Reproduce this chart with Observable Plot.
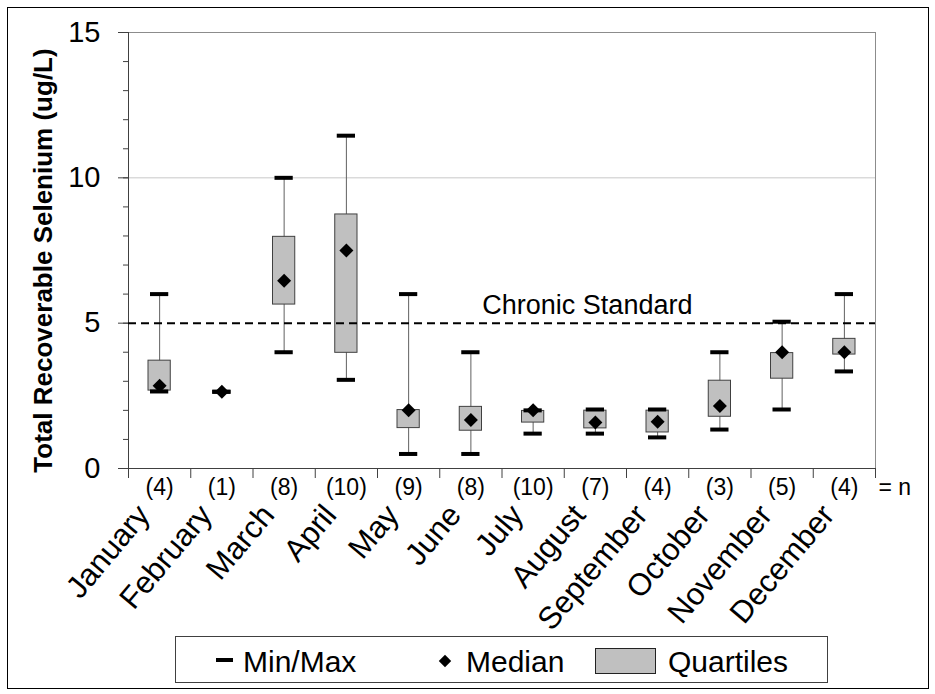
<!DOCTYPE html>
<html>
<head>
<meta charset="utf-8">
<script src="https://cdn.jsdelivr.net/npm/d3@7"></script>
<script src="https://cdn.jsdelivr.net/npm/@observablehq/plot@0.6"></script>
<style>
  body { margin: 0; background: #fff; }
  #chart { position: relative; width: 935px; height: 694px; overflow: hidden; font-family: "Liberation Sans", Arial, sans-serif; }
  #border { position: absolute; left: 7px; top: 7px; width: 922px; height: 682px; box-sizing: border-box; border: 1px solid #000; pointer-events: none; }
  #plot { position: absolute; left: 0; top: 0; }
  #legend { position: absolute; left: 175px; top: 636px; }
</style>
</head>
<body>
<div id="chart">
  <div id="plot"></div>
  <div id="legend"></div>
  <div id="border"></div>
</div>
<script>
// Monthly total recoverable selenium (ug/L): min, quartiles, median, max and sample count
const months = ["January", "February", "March", "April", "May", "June", "July", "August", "September", "October", "November", "December"];
const nObs   = [4, 1, 8, 10, 9, 8, 10, 7, 4, 3, 5, 4];
const minVal = [2.65, 2.64, 4.0, 3.05, 0.5, 0.5, 1.2, 1.2, 1.07, 1.34, 2.03, 3.34];
const q1Val  = [2.68, 2.64, 5.64, 3.98, 1.39, 1.30, 1.58, 1.38, 1.24, 1.78, 3.09, 3.92];
const medVal = [2.85, 2.64, 6.46, 7.5, 2.0, 1.67, 2.0, 1.58, 1.61, 2.15, 4.0, 4.0];
const q3Val  = [3.71, 2.64, 7.97, 8.74, 2.01, 2.12, 1.98, 1.99, 1.99, 3.02, 3.97, 4.46];
const maxVal = [6.0, 2.64, 10.0, 11.45, 6.0, 4.0, 2.0, 2.03, 2.03, 4.0, 5.05, 6.0];

const chronicStandard = 5;
const chronicLabel = "Chronic Standard";
const yTicksMajor = [0, 5, 10, 15];
const yTicksMinor = d3.range(0, 16);
const gridLines = [10];
const yTitle = "Total Recoverable Selenium (ug/L)";
const legendItems = ["Min/Max", "Median", "Quartiles"];

const rows = months.map((m, i) => ({
  month: m, n: nObs[i], min: minVal[i], q1: q1Val[i], med: medVal[i], q3: q3Val[i], max: maxVal[i]
}));

const W = 935, H = 630;
const mL = 128, mR = 60, mT = 32, mB = H - 468;
const bw = (W - mL - mR) / months.length;
const font = '"Liberation Sans", Arial, sans-serif';
const axisColor = "#404040";

const chart = Plot.plot({
  width: W, height: H,
  marginLeft: mL, marginRight: mR, marginTop: mT, marginBottom: mB,
  style: { fontFamily: font, background: "transparent", overflow: "visible" },
  x: { type: "band", domain: months, padding: 0, round: false, axis: null },
  y: { domain: [0, 15], axis: null, label: null },
  marks: [
    Plot.ruleY(gridLines, { stroke: "#c8c8c8" }),
    Plot.frame({ stroke: "#8c8c8c" }),
    Plot.ruleY([0], { stroke: axisColor }),
    Plot.ruleX([months[0]], { dx: -bw / 2, stroke: axisColor }),
    Plot.axisY({ ticks: yTicksMinor, tickSize: 5, tickFormat: () => "", stroke: axisColor, label: null }),
    Plot.axisY({ ticks: yTicksMajor, tickSize: 10, tickPadding: 18, fontSize: 29, fill: "#000", stroke: axisColor, label: null }),
    Plot.axisX({ ticks: months, tickSize: 10, tickFormat: () => "", dx: -bw / 2, stroke: axisColor, label: null }),
    Plot.axisX({ ticks: [months[months.length - 1]], tickSize: 10, tickFormat: () => "", dx: bw / 2, stroke: axisColor, label: null }),
    // whiskers
    Plot.ruleX(rows, { x: "month", y1: "min", y2: "max", stroke: "#606060", strokeWidth: 1 }),
    // interquartile boxes
    Plot.barY(rows, { x: "month", y1: "q1", y2: "q3", fill: "#c0c0c0", stroke: axisColor, strokeWidth: 1, insetLeft: 20, insetRight: 20 }),
    // chronic standard
    Plot.ruleY([chronicStandard], { stroke: "#000", strokeWidth: 2, strokeDasharray: "8,5" }),
    Plot.text([chronicLabel], { x: () => "August", y: () => chronicStandard, text: d => d, fontSize: 27, fill: "#000", lineAnchor: "middle", textAnchor: "middle", dx: -8, dy: -18 }),
    // min / max caps
    Plot.tickY(rows, { x: "month", y: "min", stroke: "#000", strokeWidth: 4, inset: 22 }),
    Plot.tickY(rows, { x: "month", y: "max", stroke: "#000", strokeWidth: 4, inset: 22 }),
    // medians
    Plot.dot(rows, { x: "month", y: "med", symbol: "diamond2", r: 6.3, fill: "#000", stroke: null }),
    // sample counts
    Plot.text(rows, { x: "month", text: d => `(${d.n})`, frameAnchor: "bottom", lineAnchor: "middle", textAnchor: "middle", dy: 19, fontSize: 23, fill: "#000" }),
    Plot.text(["= n"], { text: d => d, frameAnchor: "bottom-right", lineAnchor: "middle", textAnchor: "start", dx: 3, dy: 19, fontSize: 23, fill: "#000" }),
    // month labels
    Plot.text(months, { x: d => d, text: d => d, frameAnchor: "bottom", rotate: -50, textAnchor: "end", lineAnchor: "middle", dx: -16, dy: 41, fontSize: 31, fill: "#000" }),
    // y axis title
    Plot.text([yTitle], { text: d => d, frameAnchor: "left", rotate: -90, textAnchor: "middle", lineAnchor: "middle", dx: 43 - mL, dy: 10, fontSize: 26, fontWeight: "bold", fill: "#000" })
  ]
});
document.getElementById("plot").appendChild(chart);

// legend
const lg = d3.select("#legend").append("svg")
  .attr("width", 654).attr("height", 48)
  .style("font-family", font).style("display", "block");
lg.append("rect").attr("x", 0.5).attr("y", 0.5).attr("width", 652).attr("height", 46)
  .attr("fill", "#fff").attr("stroke", axisColor);
lg.append("rect").attr("x", 41).attr("y", 22).attr("width", 17).attr("height", 4).attr("fill", "#000");
lg.append("text").attr("x", 68).attr("y", 36).attr("font-size", 30).text(legendItems[0]);
lg.append("path").attr("d", d3.symbol(d3.symbolDiamond2, Math.PI * 5.6 * 5.6)()).attr("transform", "translate(270,25)").attr("fill", "#000");
lg.append("text").attr("x", 291).attr("y", 36).attr("font-size", 30).text(legendItems[1]);
lg.append("rect").attr("x", 420.5).attr("y", 12.5).attr("width", 60).attr("height", 25).attr("fill", "#c0c0c0").attr("stroke", "#222");
lg.append("text").attr("x", 493).attr("y", 36).attr("font-size", 30).text(legendItems[2]);
</script>
</body>
</html>
